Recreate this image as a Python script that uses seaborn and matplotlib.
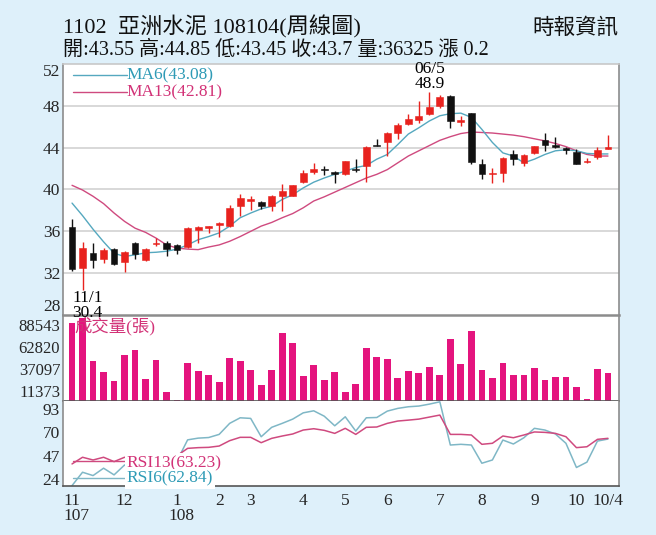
import numpy as np
import pandas as pd
import matplotlib
matplotlib.use("Agg")
import matplotlib.pyplot as plt
import seaborn as sns

# ---------------- data ----------------
opens = [36.4, 32.5, 33.9, 33.4, 34.3, 33.1, 34.9, 33.3, 34.8, 34.9,
         34.7, 34.5, 36.1, 36.3, 36.6, 36.5, 38.4, 38.9, 38.8, 38.4,
         39.4, 39.4, 40.7, 41.7, 41.95, 41.7, 41.45, 41.9, 42.2, 44.25,
         44.5, 45.45, 46.3, 46.6, 47.2, 48.0, 48.95, 46.5, 47.3, 42.4,
         41.45, 41.6, 43.4, 42.5, 43.45, 44.7, 44.3, 44.0, 43.6, 42.6,
         43.1, 43.9]
highs = [37.2, 35.0, 34.9, 34.45, 34.4, 34.1, 34.95, 34.4, 35.35, 35.05,
         34.8, 36.4, 36.5, 36.55, 36.85, 38.5, 39.6, 39.35, 38.9, 39.5,
         40.55, 40.45, 41.9, 42.55, 42.25, 41.75, 42.75, 42.9, 44.15, 44.8,
         45.5, 46.4, 47.25, 48.5, 49.3, 49.0, 49.0, 47.05, 47.35, 42.9,
         42.1, 43.1, 43.75, 43.35, 44.2, 45.45, 45.0, 44.1, 43.85, 43.05,
         44.1, 45.2]
lows = [32.2, 30.4, 32.5, 32.95, 32.8, 32.15, 33.35, 33.2, 34.55, 33.65,
        33.85, 34.4, 34.9, 35.85, 35.5, 36.4, 37.5, 38.0, 38.1, 37.9,
        37.9, 39.4, 40.6, 41.45, 41.35, 40.6, 41.4, 41.7, 40.7, 44.15,
        43.2, 44.8, 46.2, 46.4, 47.1, 47.75, 45.9, 46.1, 42.4, 41.05,
        40.65, 40.7, 42.3, 42.2, 43.4, 43.7, 44.0, 43.4, 42.4, 42.55,
        42.9, 43.85]
closes = [32.4, 34.4, 33.3, 34.2, 32.9, 34.0, 33.85, 34.3, 34.85, 34.3,
          34.25, 36.3, 36.45, 36.5, 36.8, 38.2, 39.2, 39.1, 38.4, 39.35,
          39.85, 40.4, 41.6, 42.0, 41.9, 41.5, 42.7, 41.85, 44.1, 44.2,
          45.45, 46.2, 46.7, 47.05, 47.9, 48.8, 46.55, 46.6, 42.65, 41.45,
          41.6, 43.05, 42.95, 43.3, 44.15, 44.25, 44.05, 43.8, 42.45, 42.65,
          43.8, 44.1]
ma6 = [38.7, 37.5, 36.2, 35.0, 33.9, 33.6, 33.75, 33.95, 34.0, 34.1,
       34.3, 34.7, 35.2, 35.5, 35.85, 36.5, 37.3, 37.75, 38.15, 38.4,
       39.05, 39.5, 40.15, 40.7, 41.1, 41.45, 41.75, 42.1, 42.3, 42.9,
       43.35, 44.3, 45.3, 45.9, 46.55, 47.05, 47.25, 47.3, 46.9, 45.75,
       44.5, 43.5, 43.2, 42.55, 42.9, 43.35, 43.7, 43.8, 43.7, 43.45,
       43.4, 43.4]
ma13 = [40.4, 39.95, 39.35, 38.65, 37.75, 36.95, 36.3, 35.9, 35.35, 34.7,
        34.4, 34.3, 34.25, 34.5, 34.7, 35.05, 35.5, 36.0, 36.5, 36.85,
        37.3, 37.7, 38.25, 38.9, 39.3, 39.75, 40.2, 40.65, 41.1, 41.45,
        41.9, 42.55, 43.2, 43.7, 44.2, 44.7, 45.05, 45.35, 45.5, 45.45,
        45.4, 45.3, 45.2, 45.05, 44.85, 44.65, 44.4, 44.1, 43.7, 43.35,
        43.2, 43.2]
volume = [91000, 96000, 46100, 34100, 23300, 53800, 58800, 26000, 48000, 10200,
          1700, 44200, 34500, 29900, 21800, 49600, 46500, 35700, 18300, 36100,
          79300, 67300, 29100, 41800, 24900, 34100, 11000, 19800, 61500, 50700,
          48800, 26400, 34900, 32600, 39100, 29900, 71900, 43000, 81200, 36400,
          27200, 43800, 29900, 29900, 38000, 24500, 28000, 28000, 16800, 2500,
          37600, 33000]
rsi6 = [17.4, 30.6, 27.3, 34.6, 28.0, 37.8, 30.0, 36.0, 40.0, 33.0,
        42.0, 62.6, 64.3, 64.9, 68.0, 78.9, 84.4, 83.8, 65.7, 75.0,
        78.9, 83.1, 89.3, 91.3, 86.0, 76.5, 85.4, 71.3, 84.4, 84.7,
        91.0, 93.7, 95.3, 96.0, 97.9, 100.2, 57.5, 58.2, 57.5, 39.5,
        42.7, 62.4, 58.5, 64.7, 74.0, 72.3, 68.4, 59.2, 35.3, 40.6,
        61.4, 63.4]
rsi13 = [38.8, 45.4, 42.7, 45.4, 41.1, 45.4, 42.0, 44.0, 45.0, 43.0,
         47.0, 54.2, 54.9, 55.2, 56.5, 61.8, 65.1, 65.1, 59.8, 64.1,
         66.4, 68.4, 72.3, 73.6, 72.0, 69.0, 74.0, 68.0, 75.0, 75.3,
         78.9, 81.2, 82.1, 83.1, 85.1, 87.1, 68.0, 68.0, 67.4, 58.2,
         59.2, 66.4, 64.7, 67.4, 70.4, 70.0, 69.0, 65.7, 54.9, 55.8,
         63.1, 64.1]
month_ticks = [0, 5, 10, 14, 17, 22, 26, 30, 35, 39, 44, 48, 51]
month_labels = ["11", "12", "1", "2", "3", "4", "5", "6", "7", "8", "9", "10", "10/4"]
year_marks = [(0, "107"), (10, "108")]
price_ticks = [28, 32, 36, 40, 44, 48, 52]
vol_ticks = [11373, 37097, 62820, 88543]
rsi_ticks = [24, 47, 70, 93]

title_line1 = "1102  亞洲水泥 108104(周線圖)"
title_line2 = "開:43.55 高:44.85 低:43.45 收:43.7 量:36325 漲 0.2"
source_text = "時報資訊"

# ---------------- style ----------------
sns.set_style("white")
plt.rcParams["font.family"] = ["Liberation Serif", "Noto Sans CJK TC", "DejaVu Sans"]

BG = "#def0fa"
RED = "#e8221e"
BLACK = "#111111"
PINK_BAR = "#e4147e"
TEAL_LINE = "#55a8bf"
PINK_LINE = "#cf4a7f"
TEAL_TXT = "#2f9bb6"
PINK_TXT = "#d23277"
SPINE = "#8c8c8c"

W, H = 656, 535
fig = plt.figure(figsize=(W / 100, H / 100), dpi=100, facecolor=BG)


def box(left, top, right, bottom):
    return [left / W, 1 - bottom / H, (right - left) / W, (bottom - top) / H]


ax_p = fig.add_axes(box(63, 64, 619, 315))
ax_v = fig.add_axes(box(63, 315, 619, 401))
ax_r = fig.add_axes(box(63, 401, 619, 486))
ax_p.set_zorder(5)

n = len(opens)
idx = np.arange(n)
XL = (-0.86, 52.05)

df = pd.DataFrame({"i": idx, "open": opens, "high": highs, "low": lows,
                   "close": closes, "ma6": ma6, "ma13": ma13, "vol": volume,
                   "rsi6": rsi6, "rsi13": rsi13})

for ax in (ax_p, ax_v, ax_r):
    ax.set_facecolor("white")
    ax.set_xlim(*XL)
    for s in ax.spines.values():
        s.set_color(SPINE)
        s.set_linewidth(1.2)

# ---------------- price panel ----------------
ax_p.set_ylim(28, 52)
for g in price_ticks[1:-1]:
    ax_p.axhline(g, color="#d6d6d6", lw=1.3, zorder=0)

sns.lineplot(data=df, x="i", y="ma13", ax=ax_p, color=PINK_LINE, lw=1.0, zorder=2)
sns.lineplot(data=df, x="i", y="ma6", ax=ax_p, color=TEAL_LINE, lw=1.0, zorder=2)

o = df["open"].to_numpy()
c = df["close"].to_numpy()
up = c >= o
cols = np.where(up, RED, BLACK)
ax_p.vlines(idx, df["low"], df["high"], colors=cols, lw=1.0, zorder=3)
body_bot = np.minimum(o, c)
body_h = np.maximum(np.abs(c - o), 0.08)
ax_p.bar(idx, body_h, bottom=body_bot, width=0.64, color=cols,
         edgecolor=cols, lw=0.4, zorder=4)

ax_p.set_yticks(price_ticks)
ax_p.set_yticklabels([str(t) for t in price_ticks])
ax_p.tick_params(axis="y", length=0, pad=2, labelsize=12.5)
tl = ax_p.get_yticklabels()
tl[0].set_va("bottom")
tl[-1].set_va("top")
ax_p.set_xticks([])
ax_p.set_xlabel("")
ax_p.set_ylabel("")
ax_p.spines["top"].set_color("#c8c8c8")
ax_p.spines["bottom"].set_linewidth(1.8)

# MA legend
ax_p.plot([0.018, 0.115], [0.956, 0.956], transform=ax_p.transAxes,
          color=TEAL_LINE, lw=1.0)
ax_p.plot([0.018, 0.115], [0.888, 0.888], transform=ax_p.transAxes,
          color=PINK_LINE, lw=1.0)
ax_p.text(0.115, 0.956, "MA6(43.08)", transform=ax_p.transAxes, color=TEAL_TXT,
          fontsize=12.5, va="center", ha="left")
ax_p.text(0.115, 0.888, "MA13(42.81)", transform=ax_p.transAxes, color=PINK_TXT,
          fontsize=12.5, va="center", ha="left")

# extreme annotations
ax_p.text(1.5, 30.4, "11/1\n30.4", ha="center", va="top", fontsize=12.5,
          color="black", linespacing=0.95, clip_on=False, zorder=6)
ax_p.text(34, 49.3, "06/5\n48.9", ha="center", va="bottom", fontsize=12.5,
          color="black", linespacing=0.95, clip_on=False, zorder=6)

# ---------------- volume panel ----------------
sns.barplot(data=df, x="i", y="vol", ax=ax_v, native_scale=True, color=PINK_BAR,
            width=0.64, saturation=1, edgecolor="none", zorder=2)
ax_v.set_xlim(*XL)
ax_v.set_ylim(0, 100000)
ax_v.set_yticks(vol_ticks)
ax_v.set_yticklabels([str(t) for t in vol_ticks])
ax_v.tick_params(axis="y", length=0, pad=2, labelsize=12)
ax_v.set_xticks([])
ax_v.set_xlabel("")
ax_v.set_ylabel("")
ax_v.spines["top"].set_visible(False)
ax_v.spines["bottom"].set_color("#555555")
ax_v.text(0.02, 0.87, "成交量(張)", transform=ax_v.transAxes, color=PINK_TXT,
          fontsize=12.5, va="center", ha="left", zorder=6,
          family=["Liberation Serif", "Noto Sans CJK TC"])

# ---------------- RSI panel ----------------
ax_r.set_ylim(17, 101)
sns.lineplot(data=df, x="i", y="rsi6", ax=ax_r, color="#7fb7c6", lw=1.1, zorder=2)
sns.lineplot(data=df, x="i", y="rsi13", ax=ax_r, color=PINK_LINE, lw=1.1, zorder=3)
ax_r.set_xlim(*XL)
ax_r.set_yticks(rsi_ticks)
ax_r.set_yticklabels([str(t) for t in rsi_ticks])
ax_r.tick_params(axis="y", length=0, pad=2, labelsize=12.5)
ax_r.spines["top"].set_visible(False)
ax_r.spines["bottom"].set_color("#555555")
ax_r.set_xlabel("")
ax_r.set_ylabel("")

ax_r.set_xticks(month_ticks)
ax_r.set_xticklabels(month_labels)
ax_r.set_xticks(idx, minor=True)
ax_r.tick_params(axis="x", which="both", direction="out", length=3, width=0.8,
                 color="#555555", labelsize=12.5, pad=2)
for pos, yr in year_marks:
    ax_r.text(pos + 0.4, -0.355, yr, transform=ax_r.get_xaxis_transform(),
              ha="center", va="center", fontsize=12.5, clip_on=False)

# RSI legend
ax_r.plot([0.018, 0.115], [0.294, 0.294], transform=ax_r.transAxes,
          color=PINK_LINE, lw=1.0, zorder=4)
ax_r.plot([0.018, 0.115], [0.094, 0.094], transform=ax_r.transAxes,
          color="#7fb7c6", lw=1.0, zorder=4)
ax_r.text(0.115, 0.27, "RSI13(63.23)", transform=ax_r.transAxes, color=PINK_TXT,
          fontsize=12.5, va="center", ha="left", zorder=5,
          bbox=dict(facecolor="white", edgecolor="none", pad=1.5))
ax_r.text(0.115, 0.085, "RSI6(62.84)", transform=ax_r.transAxes, color=TEAL_TXT,
          fontsize=12.5, va="center", ha="left", zorder=5,
          bbox=dict(facecolor="white", edgecolor="none", pad=1.5))

# ---------------- header ----------------
fig.text(63 / W, 1 - 27 / H, title_line1, fontsize=16, va="center", ha="left",
         color="#111111")
fig.text(63 / W, 1 - 50 / H, title_line2, fontsize=14.5, va="center", ha="left",
         color="#111111")
fig.text(618 / W, 1 - 28 / H, source_text, fontsize=15.5, va="center", ha="right",
         color="#111111", family=["Noto Sans CJK TC"])

fig.savefig("out.png", dpi=100, facecolor=BG)
